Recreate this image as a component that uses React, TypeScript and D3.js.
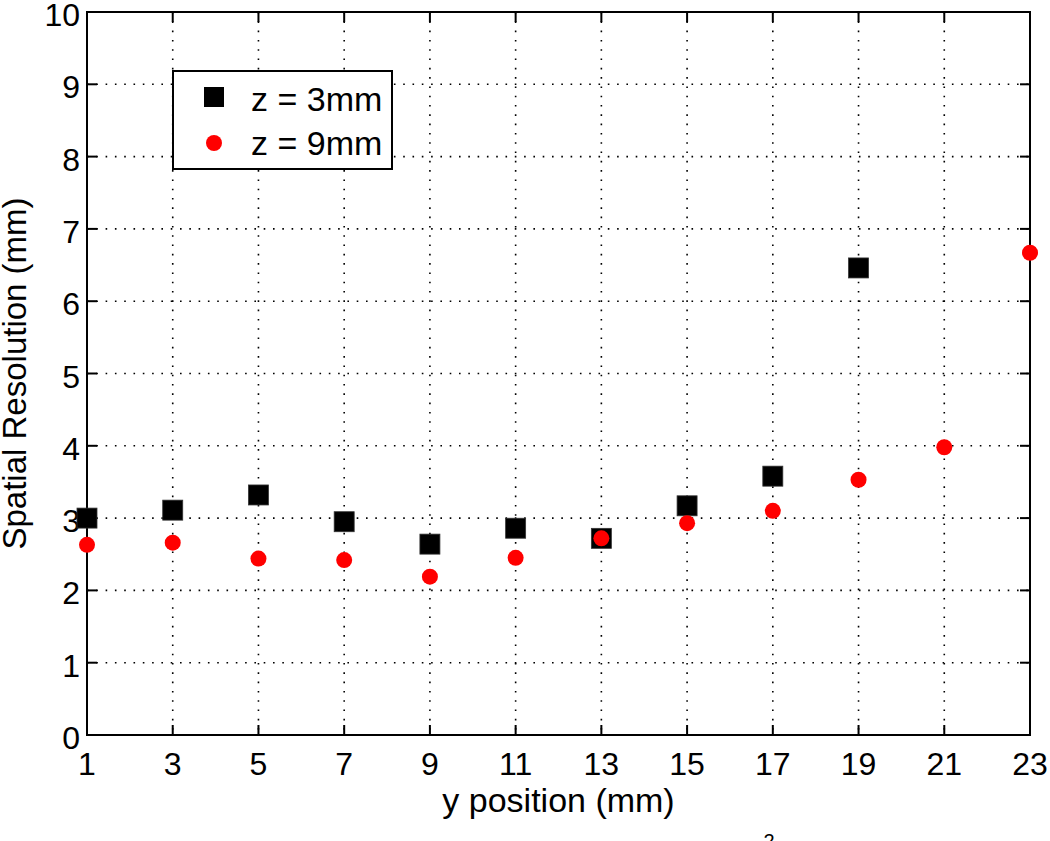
import React from "react";
import * as d3 from "d3";

const xTicks = [1, 3, 5, 7, 9, 11, 13, 15, 17, 19, 21, 23];
const yTicks = [0, 1, 2, 3, 4, 5, 6, 7, 8, 9, 10];

const z3Positions = [1, 3, 5, 7, 9, 11, 13, 15, 17, 19];
const z3Values = [3.0, 3.11, 3.32, 2.95, 2.64, 2.86, 2.72, 3.17, 3.58, 6.46];

const z9Positions = [1, 3, 5, 7, 9, 11, 13, 15, 17, 19, 21, 23];
const z9Values = [2.63, 2.66, 2.44, 2.42, 2.19, 2.45, 2.72, 2.93, 3.1, 3.53, 3.98, 6.67];

const legendLabels = ["z = 3mm", "z = 9mm"];

const FONT = "Arial, 'Liberation Sans', Helvetica, sans-serif";

export default function App() {
  const W = 1050;
  const H = 841;
  const left = 87, right = 1030, top = 12, bottom = 735;
  const x = d3.scaleLinear().domain([1, 23]).range([left, right]);
  const y = d3.scaleLinear().domain([0, 10]).range([bottom, top]);
  const tickLen = 10;
  const sq = 20;
  const r = 8;

  return (
    <svg
      width={W}
      height={H}
      style={{ position: "absolute", left: 0, top: 0, background: "#fff" }}
      fontFamily={FONT}
    >
      <rect x={0} y={0} width={W} height={H} fill="#fff" />
      {/* grid */}
      {xTicks.map((t) => (
        <line key={"gx" + t} x1={x(t)} x2={x(t)} y1={top} y2={bottom}
          stroke="#000" strokeWidth={1.6} strokeDasharray="1.6 7.7" />
      ))}
      {yTicks.map((t) => (
        <line key={"gy" + t} x1={left} x2={right} y1={y(t)} y2={y(t)}
          stroke="#000" strokeWidth={1.6} strokeDasharray="1.6 7.7" />
      ))}
      {/* ticks */}
      {xTicks.map((t) => (
        <g key={"tx" + t}>
          <line x1={x(t)} x2={x(t)} y1={bottom} y2={bottom - tickLen} stroke="#000" strokeWidth={2} />
          <line x1={x(t)} x2={x(t)} y1={top} y2={top + tickLen} stroke="#000" strokeWidth={2} />
          <text x={x(t)} y={775} fontSize={32} textAnchor="middle" fill="#000">{t}</text>
        </g>
      ))}
      {yTicks.map((t) => (
        <g key={"ty" + t}>
          <line x1={left} x2={left + tickLen} y1={y(t)} y2={y(t)} stroke="#000" strokeWidth={2} />
          <line x1={right} x2={right - tickLen} y1={y(t)} y2={y(t)} stroke="#000" strokeWidth={2} />
          <text x={80} y={y(t) + 14} fontSize={32} textAnchor="end" fill="#000">{t}</text>
        </g>
      ))}
      {/* axes box */}
      <rect x={left} y={top} width={right - left} height={bottom - top} fill="none" stroke="#000" strokeWidth={2} />
      {/* data */}
      {z3Positions.map((p, i) => (
        <rect key={"s" + i} x={x(p) - sq / 2} y={y(z3Values[i]) - sq / 2} width={sq} height={sq}
          fill="#000" stroke="#333" strokeWidth={0.8} />
      ))}
      {z9Positions.map((p, i) => (
        <circle key={"c" + i} cx={x(p)} cy={y(z9Values[i])} r={r} fill="#ff0000" />
      ))}
      {/* legend */}
      <rect x={173} y={71} width={219} height={98} fill="#fff" stroke="#000" strokeWidth={2} />
      <rect x={214 - sq / 2} y={97 - sq / 2} width={sq} height={sq} fill="#000" />
      <circle cx={214} cy={143} r={r} fill="#ff0000" />
      <text x={251} y={111} fontSize={34} fill="#000">{legendLabels[0]}</text>
      <text x={251} y={155} fontSize={34} fill="#000">{legendLabels[1]}</text>
      {/* axis labels */}
      <text x={(left + right) / 2} y={812} fontSize={34} textAnchor="middle" fill="#000">y position (mm)</text>
      <text transform={`translate(26, ${(top + bottom) / 2}) rotate(-90)`} fontSize={33}
        textAnchor="middle" fill="#000">Spatial Resolution (mm)</text>
      {/* clipped caption superscript */}
      <text x={769} y={848} fontSize={20} textAnchor="middle" fill="#000">2</text>
    </svg>
  );
}
